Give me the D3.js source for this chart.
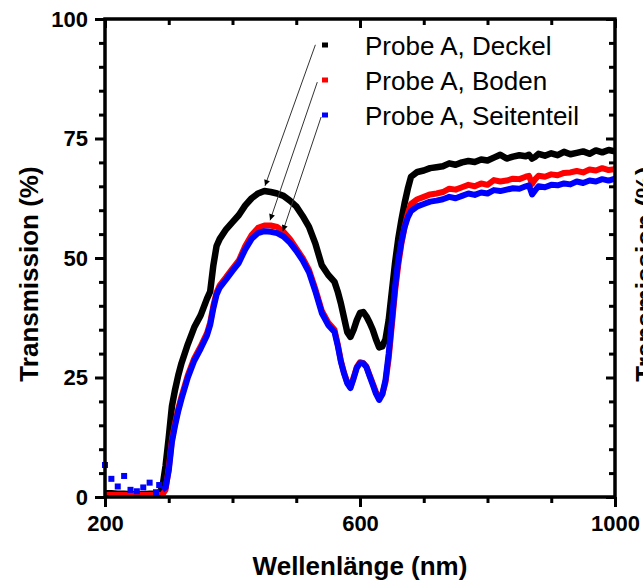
<!DOCTYPE html>
<html><head><meta charset="utf-8">
<script src="https://cdn.jsdelivr.net/npm/d3@7/dist/d3.min.js"></script>
<style>body{margin:0;background:#fff} svg{display:block}</style>
</head><body><svg id="c" width="643" height="580"></svg>
<script>
const wavelengths = [200,210,220,230,240,250,260,270,280,285,290,295,300,305,310,315,320,330,340,350,360,365,370,375,380,390,400,410,420,430,440,450,460,470,480,490,500,510,520,530,540,550,560,565,570,575,580,585,590,595,600,605,610,615,620,625,630,635,640,645,650,655,660,665,670,675,680,690,700,710,720,730,740,750,760,770,780,790,800,810,820,830,840,850,860,865,870,875,880,890,900,910,920,930,940,950,960,970,980,990,1000];
const deckel = [0.8,0.8,0.7,0.7,0.6,0.6,0.6,0.7,0.7,0.8,2,6.5,12.5,19,22.5,25.5,28,32,35.5,38,41.5,43,48.5,52.5,54,56,57.5,59,61,62.5,63.5,64,63.8,63.5,63,62,60.8,58.8,56.5,53,48.5,46.5,45,43,40.5,37.5,34.5,33.5,35,37,38.5,38.7,37.8,36.5,35,33,31.3,31.5,33,37,43,49,54,58,61.5,64.5,67,68,68.3,68.8,69,69.2,69.8,69.5,70,70.3,70.1,70.6,70.4,71,71.6,70.8,71.2,71.5,71.3,71.6,70.8,71.2,71.8,71.4,71.9,71.5,72.2,71.7,72,72.3,71.8,72.5,72.1,72.6,72.3];
const boden = [0.4,0.4,0.4,0.4,0.4,0.4,0.4,0.4,0.4,0.4,0.5,1.5,6,12,15.5,18.5,21,25.5,29,31.5,34.3,36.5,40,42.8,44.3,46,47.8,49.5,52.5,54.8,56.3,56.8,56.8,56.5,55.5,54,52,50,47.5,43.5,39,36.5,35,32,28.5,26,24,23,25,27.2,28.2,28,27.3,25.5,23.8,22,20.8,21.5,24,29,36,43,48.5,53,56.5,59.3,61.3,62.3,62.8,63.3,63.5,63.8,64.5,64.3,64.8,65.3,65,65.6,65.3,66.3,66,66.2,66.6,66.5,67,67.2,65.5,66.5,67.2,67,67.5,67.3,67.8,67.9,68.2,67.9,68.5,68.3,68.8,68.4,68.6];
const seitenteil = [6.7,3.8,2.2,4.4,1.5,1.2,2.0,3.0,1.0,2.5,1.5,2,5.5,11.5,15,18,20.5,25,28.5,31,33.8,36,39.5,42.3,43.8,45.5,47.3,49,51.8,54,55.2,55.6,55.5,55.2,54.5,53.2,51.5,49.5,47,43,38.5,36,34.5,31.7,28.3,25.8,23.8,22.8,24.8,27,28,28,27.2,25.3,23.5,21.6,20.3,21.5,24.5,30,37,44,49.5,53.5,56.5,58.5,59.8,60.8,61.3,61.8,62,62.3,62.8,62.5,63,63.5,63.2,63.7,63.5,64.2,64,64.3,64.6,64.5,65,65.2,63.3,64.2,65,64.8,65.3,65.2,65.6,65.4,66,65.7,66.2,66,66.5,66.2,66.6];
const seriesNames = ["Probe A, Deckel","Probe A, Boden","Probe A, Seitenteil"];
const seriesColors = ["#000000","#ff0000","#0000ff"];
const xMajorTicks = [200,600,1000];
const xMinorTicks = [300,400,500,700,800,900];
const yMajorTicks = [0,25,50,75,100];
const yMinorTicks = [5,10,15,20,30,35,40,45,55,60,65,70,80,85,90,95];
// arrow annotations [start wavelength, start T, tip wavelength, tip T]
const arrowStarts = [[530,94.6],[533,86.8],[539,79.5]];
const arrowTips = [[451,65.1],[459,57.9],[479,55.6]];
const xTitle = "Wellenlänge (nm)";
const yTitle = "Transmission (%)";

const svg = d3.select("#c");
const L=105,R=615,T=19,B=497;
const x = d3.scaleLinear([200,1000],[L,R]);
const y = d3.scaleLinear([0,100],[B,T]);
const font = "'Liberation Sans', Arial, sans-serif";

svg.append("defs").append("marker").attr("id","ah").attr("viewBox","0 0 10 10")
  .attr("refX",10).attr("refY",5).attr("markerWidth",9).attr("markerHeight",6)
  .attr("markerUnits","userSpaceOnUse").attr("orient","auto")
  .append("path").attr("d","M0,0L10,5L0,10Z").attr("fill","#000");

const allSeries = [deckel, boden, seitenteil];
const line = d3.line().x(d=>x(d[0])).y(d=>y(d[1]));
allSeries.forEach((vals,i)=>{
  let pts = wavelengths.map((w,j)=>[w,vals[j]]);
  if(i===2){
    const scatter = pts.filter(p=>p[0]<290);
    svg.append("g").selectAll("rect").data(scatter).join("rect")
      .attr("x",d=>x(d[0])-3).attr("y",d=>y(d[1])-3).attr("width",6).attr("height",6)
      .attr("fill",seriesColors[i]);
    pts = pts.filter(p=>p[0]>=290);
  }
  svg.append("path").datum(pts).attr("d",line).attr("fill","none")
    .attr("stroke",seriesColors[i]).attr("stroke-width",i===0?6.5:6)
    .attr("stroke-linejoin","round");
});

// axes
function styleAxis(g){
  g.select(".domain").remove();
  g.selectAll("line").attr("stroke","#000").attr("stroke-width",3);
  g.selectAll("text").attr("font-family",font).attr("font-weight","bold")
    .attr("font-size",22).attr("fill","#000");
}
svg.append("g").attr("transform",`translate(${L},0)`)
  .call(d3.axisLeft(y).tickValues(yMajorTicks).tickSize(10).tickPadding(7).tickFormat(d3.format("d"))).call(styleAxis);
svg.append("g").attr("transform",`translate(${L},0)`)
  .call(d3.axisLeft(y).tickValues(yMinorTicks).tickSize(6).tickFormat("")).call(styleAxis);
svg.append("g").attr("transform",`translate(${R},0)`)
  .call(d3.axisLeft(y).tickValues(yMajorTicks).tickSize(-0).tickFormat("")).call(styleAxis);
svg.append("g").attr("transform",`translate(${R},0)`)
  .call(d3.axisRight(y).tickValues(yMajorTicks).tickSize(-9).tickFormat("")).call(styleAxis);
svg.append("g").attr("transform",`translate(${R},0)`)
  .call(d3.axisRight(y).tickValues(yMinorTicks).tickSize(-6).tickFormat("")).call(styleAxis);
svg.append("g").attr("transform",`translate(0,${B})`)
  .call(d3.axisBottom(x).tickValues(xMajorTicks).tickSize(10).tickPadding(8).tickFormat(d3.format("d"))).call(styleAxis);
svg.append("g").attr("transform",`translate(0,${B})`)
  .call(d3.axisBottom(x).tickValues(xMinorTicks).tickSize(6).tickFormat("")).call(styleAxis);
svg.append("g").attr("transform",`translate(0,${T})`)
  .call(d3.axisTop(x).tickValues(xMajorTicks).tickSize(-9).tickFormat("")).call(styleAxis);
svg.append("g").attr("transform",`translate(0,${T})`)
  .call(d3.axisTop(x).tickValues(xMinorTicks).tickSize(-6).tickFormat("")).call(styleAxis);
svg.append("rect").attr("x",L).attr("y",T).attr("width",R-L).attr("height",B-T)
  .attr("fill","none").attr("stroke","#000").attr("stroke-width",3.5);

// arrows
arrowStarts.forEach((s,i)=>{
  svg.append("line").attr("x1",x(s[0])).attr("y1",y(s[1]))
    .attr("x2",x(arrowTips[i][0])).attr("y2",y(arrowTips[i][1]))
    .attr("stroke","#333").attr("stroke-width",1).attr("marker-end","url(#ah)");
});

// legend
const lg = svg.append("g");
seriesNames.forEach((n,i)=>{
  const yy = 45 + i*35;
  lg.append("rect").attr("x",322).attr("y",yy-2.5).attr("width",6).attr("height",5).attr("fill",seriesColors[i]);
  lg.append("text").attr("x",365).attr("y",yy+10).attr("font-family",font)
    .attr("font-size",26).attr("fill","#000").text(n);
});

// titles
svg.append("text").attr("x",360).attr("y",575).attr("text-anchor","middle")
  .attr("font-family",font).attr("font-weight","bold").attr("font-size",26).text(xTitle);
svg.append("text").attr("transform","translate(38,274) rotate(-90)").attr("text-anchor","middle")
  .attr("font-family",font).attr("font-weight","bold").attr("font-size",26).text(yTitle);
// neighbouring panel's title, cut off at the right edge
svg.append("text").attr("transform","translate(654,274) rotate(-90)").attr("text-anchor","middle")
  .attr("font-family",font).attr("font-weight","bold").attr("font-size",26).text(yTitle);
</script></body></html>
